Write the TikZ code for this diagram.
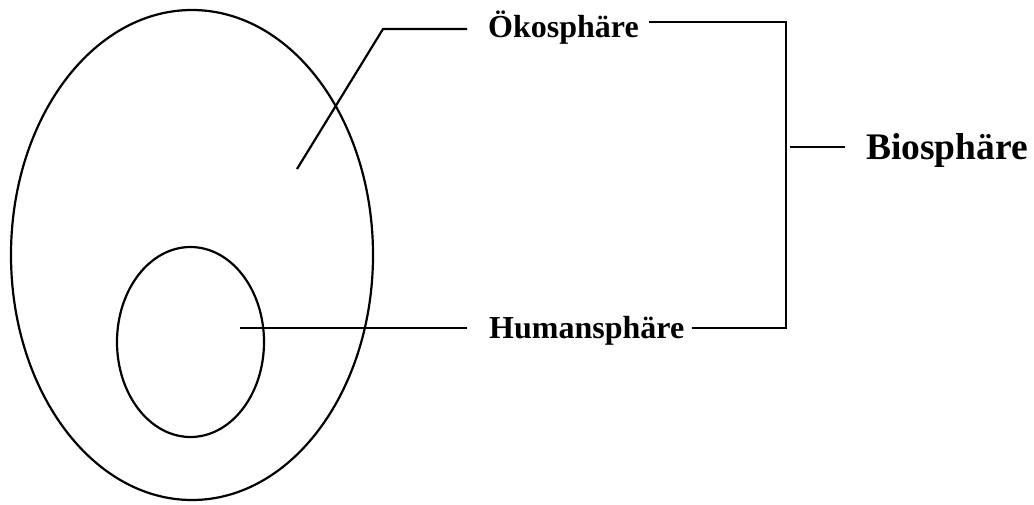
\documentclass[tikz,border=0pt]{standalone}
\usepackage{fontspec}
\setmainfont{Liberation Serif}
\usetikzlibrary{shapes.geometric}
\begin{document}
\begin{tikzpicture}[x=1pt,y=-1pt,
  line/.style={line width=2.2pt, line join=miter},
  lbl/.style={inner sep=0pt, anchor=base west, font=\fontsize{32}{38}\selectfont\bfseries},
  big/.style={inner sep=0pt, anchor=base west, font=\fontsize{37.5}{44}\selectfont\bfseries},
  sphere/.style={ellipse, draw, line width=2.2pt, inner sep=0pt}]
\useasboundingbox (0,0) rectangle (1034,504);
% spheres
\node[sphere, minimum width=362pt, minimum height=490pt] (outer) at (192,255) {};
\node[sphere, minimum width=147pt, minimum height=190pt] (inner) at (190.5,342) {};
% labels
\node[lbl] (oko) at (488,37) {Ökosphäre};
\node[lbl] (hum) at (489,338) {Humansphäre};
\node[big] (bio) at (866,159) {Biosphäre};
% coordinates
\coordinate (oP) at (297,169);
\coordinate (oK) at (383,29);
\coordinate (oE) at (467,29);
\coordinate (hP) at (240,328);
\coordinate (hE) at (467,328);
\coordinate (bT) at (786,22);
\coordinate (bB) at (786,328);
\coordinate (tA) at (790,147);
\coordinate (tB) at (845,147);
% connectors
\draw[line] (oP) -- (oK) -- (oE);
\draw[line] (hP) -- (hE);
\draw[line] ([xshift=10pt]oko.east |- bT) -- (bT) -- (bB) -- ([xshift=8pt]hum.east |- bB);
\draw[line] (tA) -- (tB);
\end{tikzpicture}
\end{document}
